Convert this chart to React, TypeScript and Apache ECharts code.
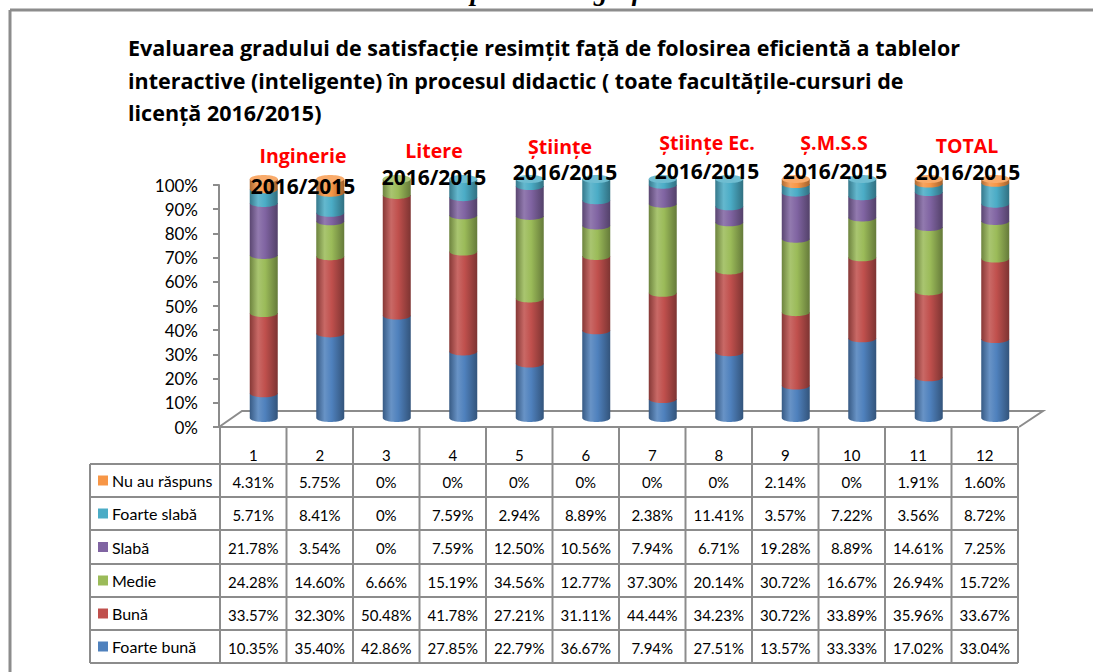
import React, { useEffect, useRef } from 'react';
import * as echarts from 'echarts';

// ---------- data ----------
const categories = ['1', '2', '3', '4', '5', '6', '7', '8', '9', '10', '11', '12'];
const foarteBuna = [10.35, 35.4, 42.86, 27.85, 22.79, 36.67, 7.94, 27.51, 13.57, 33.33, 17.02, 33.04];
const buna = [33.57, 32.3, 50.48, 41.78, 27.21, 31.11, 44.44, 34.23, 30.72, 33.89, 35.96, 33.67];
const medie = [24.28, 14.6, 6.66, 15.19, 34.56, 12.77, 37.3, 20.14, 30.72, 16.67, 26.94, 15.72];
const slaba = [21.78, 3.54, 0, 7.59, 12.5, 10.56, 7.94, 6.71, 19.28, 8.89, 14.61, 7.25];
const foarteSlaba = [5.71, 8.41, 0, 7.59, 2.94, 8.89, 2.38, 11.41, 3.57, 7.22, 3.56, 8.72];
const nuAuRaspuns = [4.31, 5.75, 0, 0, 0, 0, 0, 0, 2.14, 0, 1.91, 1.6];

// bottom -> top stacking order
const seriesNames = ['Foarte bună', 'Bună', 'Medie', 'Slabă', 'Foarte slabă', 'Nu au răspuns'];
const seriesValues = [foarteBuna, buna, medie, slaba, foarteSlaba, nuAuRaspuns];
const seriesColors = ['#4F81BD', '#C0504D', '#9BBB59', '#8064A2', '#4BACC6', '#F79646'];

const faculties = ['Inginerie', 'Litere', 'Științe', 'Științe Ec.', 'Ș.M.S.S', 'TOTAL'];
const yearLabel = '2016/2015';
const titleLines = [
  'Evaluarea gradului de satisfacție resimțit față de folosirea eficientă a tablelor',
  'interactive (inteligente) în procesul didactic ( toate facultățile-cursuri de',
  'licență 2016/2015)',
];
const headerText = 'Reprezentare grafică';

// ---------- helpers ----------
function mix(hex: string, target: number, t: number): string {
  const n = parseInt(hex.slice(1), 16);
  const r = (n >> 16) & 255, g = (n >> 8) & 255, b = n & 255;
  const f = (c: number) => Math.round(c + (target - c) * t);
  return 'rgb(' + f(r) + ',' + f(g) + ',' + f(b) + ')';
}

function fmt(v: number): string {
  return v === 0 ? '0%' : v.toFixed(2) + '%';
}

export default function App() {
  const ref = useRef<HTMLDivElement>(null);

  useEffect(() => {
    if (!ref.current) return;
    const chart = echarts.init(ref.current, null, { renderer: 'svg' });

    // layout constants
    const tableLeft = 220;
    const colW = 66.5;
    const tableRight = tableLeft + colW * 12;
    const legendLeft = 90;
    const headerTop = 427;
    const rowTops = [464, 497, 530, 564, 597, 630, 663];
    const lineColor = '#8c8c8c';
    const font = 'Lato';
    const boldFont = 'Open Sans';

    // stacking
    const cum = categories.map(() => 0);
    const topLevel = categories.map((_, i) => {
      let t = 0;
      seriesValues.forEach((vals, k) => {
        if (vals[i] > 0) t = k;
      });
      return t;
    });

    const customSeries = seriesValues.map((vals, k) => {
      const data = categories.map((_, i) => {
        const lo = cum[i];
        const hi = lo + vals[i];
        cum[i] = hi;
        return [i, lo, hi, topLevel[i] === k ? 1 : 0];
      });
      const base = seriesColors[k];
      const grad = new echarts.graphic.LinearGradient(0, 0, 1, 0, [
        { offset: 0, color: mix(base, 0, 0.3) },
        { offset: 0.3, color: mix(base, 255, 0.14) },
        { offset: 0.55, color: base },
        { offset: 1, color: mix(base, 0, 0.35) },
      ]);
      const topFill = mix(base, 255, 0.2);
      return {
        type: 'custom',
        name: seriesNames[k],
        xAxisIndex: 1,
        yAxisIndex: 1,
        z: 2 + k,
        encode: { x: 0, y: [1, 2] },
        data,
        renderItem: (params: any, api: any) => {
          const ci = api.value(0);
          const lo = api.value(1);
          const hi = api.value(2);
          const isTop = api.value(3);
          if (hi - lo <= 0) return null;
          const bot = api.coord([ci, lo]);
          const top = api.coord([ci, hi]);
          const cx = bot[0];
          const rx = 14;
          const ry = 4;
          const pts: number[][] = [
            [cx - rx, top[1]],
            [cx + rx, top[1]],
            [cx + rx, bot[1]],
          ];
          for (let s = 1; s < 24; s++) {
            const t = (Math.PI * s) / 24;
            pts.push([cx + rx * Math.cos(t), bot[1] + ry * Math.sin(t)]);
          }
          pts.push([cx - rx, bot[1]]);
          const children: any[] = [
            { type: 'polygon', shape: { points: pts }, style: { fill: grad } },
          ];
          if (isTop) {
            const ep: number[][] = [];
            for (let s = 0; s < 48; s++) {
              const t = (Math.PI * 2 * s) / 48;
              ep.push([cx + rx * Math.cos(t), top[1] + ry * Math.sin(t)]);
            }
            children.push({ type: 'polygon', shape: { points: ep }, style: { fill: topFill } });
          }
          return { type: 'group', children };
        },
      };
    });

    const graphics: any[] = [];
    // outer frame
    graphics.push({ type: 'line', z: 0, shape: { x1: 10, y1: 10, x2: 1093, y2: 10 }, style: { stroke: lineColor, lineWidth: 3 } });
    graphics.push({ type: 'line', z: 0, shape: { x1: 10, y1: 10, x2: 10, y2: 672 }, style: { stroke: lineColor, lineWidth: 3 } });
    // cut header (the reference shows only its lower edge)
    graphics.push({
      type: 'text', z: 10, x: 557, y: 4,
      style: { text: headerText, font: 'italic bold 27px "Liberation Serif"', fill: '#000', align: 'center', verticalAlign: 'bottom' },
    });
    // title
    const titleY = [47, 80, 112];
    titleLines.forEach((t, i) => {
      graphics.push({
        type: 'text', z: 10, x: 128, y: titleY[i],
        style: { text: t, fontFamily: boldFont, fontWeight: 'bold', fontSize: 21.5, fill: '#000', align: 'left', verticalAlign: 'middle' },
      });
    });
    // faculty labels
    const facPos = [[303, 155], [434, 150], [560, 146], [707, 142], [834, 142], [967, 145]];
    const yearPos = [[303, 186], [434, 177], [565, 172], [707, 171], [835, 171], [968, 172]];
    faculties.forEach((f, i) => {
      graphics.push({
        type: 'text', z: 10, x: facPos[i][0], y: facPos[i][1],
        style: { text: f, fontFamily: boldFont, fontWeight: 'bold', fontSize: 19.5, fill: '#FF0000', align: 'center', verticalAlign: 'middle' },
      });
      graphics.push({
        type: 'text', z: 10, x: yearPos[i][0], y: yearPos[i][1],
        style: { text: yearLabel, fontFamily: boldFont, fontWeight: 'bold', fontSize: 21, fill: '#000', align: 'center', verticalAlign: 'middle' },
      });
    });
    // floor
    graphics.push({
      type: 'polyline', z: 0,
      shape: { points: [[219, 427], [242, 411], [1043, 411], [1019, 427]] },
      style: { stroke: lineColor, lineWidth: 2, fill: 'none' },
    });
    // table grid
    graphics.push({ type: 'line', z: 0, shape: { x1: tableLeft, y1: headerTop, x2: tableRight, y2: headerTop }, style: { stroke: lineColor, lineWidth: 2 } });
    rowTops.forEach((y) => {
      graphics.push({ type: 'line', z: 0, shape: { x1: legendLeft, y1: y, x2: tableRight, y2: y }, style: { stroke: lineColor, lineWidth: 2 } });
    });
    for (let c = 0; c <= 12; c++) {
      const x = tableLeft + colW * c;
      graphics.push({ type: 'line', z: 0, shape: { x1: x, y1: headerTop, x2: x, y2: rowTops[6] }, style: { stroke: lineColor, lineWidth: 2 } });
    }
    graphics.push({ type: 'line', z: 0, shape: { x1: legendLeft, y1: rowTops[0], x2: legendLeft, y2: rowTops[6] }, style: { stroke: lineColor, lineWidth: 2 } });
    // header numbers
    categories.forEach((c, i) => {
      graphics.push({
        type: 'text', z: 10, x: tableLeft + colW * (i + 0.5), y: 455,
        style: { text: c, fontFamily: font, fontSize: 15, fill: '#000', align: 'center', verticalAlign: 'middle' },
      });
    });
    // table rows: top to bottom = reverse stacking
    for (let r = 0; r < 6; r++) {
      const k = 5 - r;
      const cy = (rowTops[r] + rowTops[r + 1]) / 2 + 1;
      graphics.push({ type: 'rect', z: 10, shape: { x: 98, y: cy - 6, width: 10, height: 10 }, style: { fill: seriesColors[k] } });
      graphics.push({
        type: 'text', z: 10, x: 112, y: cy - 1,
        style: { text: seriesNames[k], fontFamily: font, fontSize: 16, fill: '#000', align: 'left', verticalAlign: 'middle' },
      });
      seriesValues[k].forEach((v, i) => {
        graphics.push({
          type: 'text', z: 10, x: tableLeft + colW * (i + 0.5), y: cy,
          style: { text: fmt(v), fontFamily: font, fontSize: 15, fill: '#000', align: 'center', verticalAlign: 'middle' },
        });
      });
    }

    chart.setOption({
      animation: false,
      backgroundColor: '#ffffff',
      grid: [
        { left: 219, top: 185, width: 800, height: 242 },
        { left: 230.5, top: 179, width: 798, height: 239 },
      ],
      xAxis: [
        { gridIndex: 0, type: 'value', min: 0, max: 1, show: false },
        { gridIndex: 1, type: 'category', data: categories, show: false },
      ],
      yAxis: [
        {
          gridIndex: 0, type: 'value', min: 0, max: 100, interval: 10,
          axisLine: { show: true, lineStyle: { color: lineColor, width: 2 } },
          axisTick: { show: true, length: 6, lineStyle: { color: lineColor, width: 2 } },
          axisLabel: { formatter: '{value}%', fontFamily: font, fontSize: 17, color: '#000', margin: 21 },
          splitLine: { show: false },
        },
        { gridIndex: 1, type: 'value', min: 0, max: 100, show: false },
      ],
      graphic: graphics,
      series: customSeries,
    });

    return () => {
      chart.dispose();
    };
  }, []);

  return (
    <div
      ref={ref}
      style={{ position: 'fixed', left: 0, top: 0, width: 1093, height: 672, background: '#fff' }}
    />
  );
}
